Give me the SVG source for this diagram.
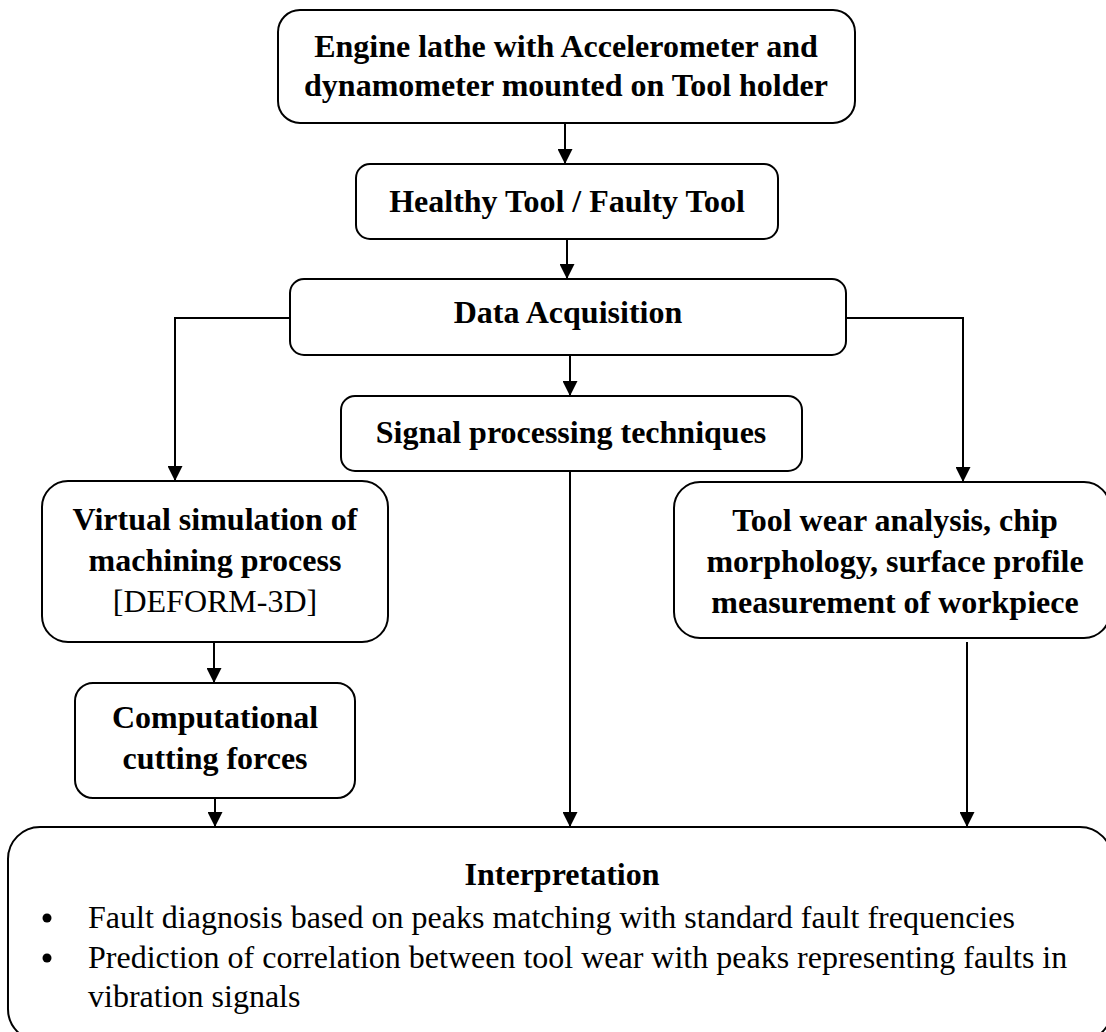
<svg xmlns="http://www.w3.org/2000/svg" width="1106" height="1032" viewBox="0 0 1106 1032">
<style>
.box{fill:#fff;stroke:#000;stroke-width:2}
.b{font-family:"Liberation Serif","Times New Roman",serif;font-weight:bold;font-size:32px;fill:#000;text-anchor:middle}
.r{font-family:"Liberation Serif","Times New Roman",serif;font-size:32px;fill:#000}
.c{text-anchor:middle}
.ln{fill:none;stroke:#000;stroke-width:2}
</style>
<defs>
<marker id="ah" markerWidth="15" markerHeight="15" viewBox="0 0 15 15" refX="15" refY="7.5" orient="auto" markerUnits="userSpaceOnUse">
<path d="M0,0 L15,7.5 L0,15 Z" fill="#000"/>
</marker>
</defs>
<rect width="1106" height="1032" fill="#fff"/>
<g id="connectors">
<line class="ln" x1="565" y1="123" x2="565" y2="164" marker-end="url(#ah)"/>
<line class="ln" x1="567" y1="239" x2="567" y2="279" marker-end="url(#ah)"/>
<polyline class="ln" points="290,318 175,318 175,481" marker-end="url(#ah)"/>
<polyline class="ln" points="846,318 963,318 963,482" marker-end="url(#ah)"/>
<line class="ln" x1="570" y1="355" x2="570" y2="396" marker-end="url(#ah)"/>
<line class="ln" x1="570" y1="471" x2="570" y2="827" marker-end="url(#ah)"/>
<line class="ln" x1="214" y1="642" x2="214" y2="683" marker-end="url(#ah)"/>
<line class="ln" x1="215" y1="798" x2="215" y2="827" marker-end="url(#ah)"/>
<line class="ln" x1="967" y1="642" x2="967" y2="827" marker-end="url(#ah)"/>
</g>
<g id="n1">
<rect class="box" x="278" y="10" width="577" height="113" rx="22"/>
<text class="b" x="566" y="57">Engine lathe with Accelerometer and</text>
<text class="b" x="566" y="96">dynamometer mounted on Tool holder</text>
</g>
<g id="n2">
<rect class="box" x="356" y="164" width="422" height="75" rx="14"/>
<text class="b" x="567" y="212">Healthy Tool / Faulty Tool</text>
</g>
<g id="n3">
<rect class="box" x="290" y="279" width="556" height="76" rx="14"/>
<text class="b" x="568" y="323">Data Acquisition</text>
</g>
<g id="n4">
<rect class="box" x="341" y="396" width="461" height="75" rx="14"/>
<text class="b" x="571" y="443">Signal processing techniques</text>
</g>
<g id="n5">
<rect class="box" x="42" y="481" width="346" height="161" rx="26"/>
<text class="b" x="215" y="530">Virtual simulation of</text>
<text class="b" x="215" y="571">machining process</text>
<text class="r c" x="215" y="612">[DEFORM-3D]</text>
</g>
<g id="n6">
<rect class="box" x="75" y="683" width="280" height="115" rx="18"/>
<text class="b" x="215" y="728">Computational</text>
<text class="b" x="215" y="769">cutting forces</text>
</g>
<g id="n7">
<rect class="box" x="674" y="482" width="436" height="156" rx="26"/>
<text class="b" x="895" y="531">Tool wear analysis, chip</text>
<text class="b" x="895" y="572">morphology, surface profile</text>
<text class="b" x="895" y="613">measurement of workpiece</text>
</g>
<g id="n8">
<rect class="box" x="8" y="827" width="1104" height="214" rx="32"/>
<text class="b" x="562" y="885">Interpretation</text>
<circle cx="47" cy="918" r="4.5" fill="#000"/>
<circle cx="47" cy="958" r="4.5" fill="#000"/>
<text class="r" x="88" y="928">Fault diagnosis based on peaks matching with standard fault frequencies</text>
<text class="r" x="88" y="968">Prediction of correlation between tool wear with peaks representing faults in</text>
<text class="r" x="88" y="1007">vibration signals</text>
</g>
</svg>
